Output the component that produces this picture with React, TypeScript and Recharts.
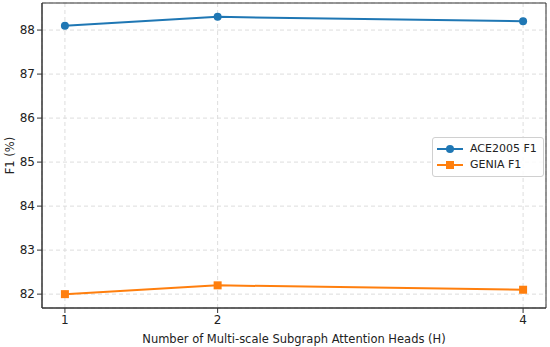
import { LineChart, Line, XAxis, YAxis, CartesianGrid, ReferenceArea } from "recharts";

const heads = [1, 2, 4];
const ace2005F1 = [88.1, 88.3, 88.2];
const geniaF1 = [82.0, 82.2, 82.1];
const yTicks = [82, 83, 84, 85, 86, 87, 88];

const data = heads.map((h, i) => ({ h, ace: ace2005F1[i], genia: geniaF1[i] }));

const BLUE = "#1f77b4";
const ORANGE = "#ff7f0e";
const FONT = "DejaVu Sans, sans-serif";

const SquareDot = (props: any) => {
  const { cx, cy } = props;
  if (cx == null || cy == null) return null;
  return <rect x={cx - 4} y={cy - 4} width={8} height={8} fill={ORANGE} />;
};

const LegendBox = () => (
  <div
    style={{
      position: "absolute",
      left: 432,
      top: 137,
      border: "1px solid #d0d0d0",
      borderRadius: 3,
      background: "rgba(255,255,255,0.85)",
      padding: "3px 6px 3px 4px",
      fontFamily: FONT,
      fontSize: 11,
      color: "#222",
      lineHeight: "16px",
    }}
  >
    {[
      { name: "ACE2005 F1", color: BLUE, square: false },
      { name: "GENIA F1", color: ORANGE, square: true },
    ].map((it) => (
      <div key={it.name} style={{ display: "flex", alignItems: "center" }}>
        <svg width={26} height={12} style={{ marginRight: 7 }}>
          <line x1={0} y1={6} x2={26} y2={6} stroke={it.color} strokeWidth={2} />
          {it.square ? (
            <rect x={9} y={2} width={8} height={8} fill={it.color} />
          ) : (
            <circle cx={13} cy={6} r={4} fill={it.color} />
          )}
        </svg>
        <span>{it.name}</span>
      </div>
    ))}
  </div>
);

export default function App() {
  return (
    <div style={{ position: "absolute", left: 0, top: 0, width: 550, height: 347, background: "#fff" }}>
      <LineChart width={550} height={347} data={data} margin={{ top: 3, right: 4, left: 0, bottom: 0 }}>
        <CartesianGrid stroke="#dddddd" strokeDasharray="4 3" vertical horizontal />
        <XAxis
          dataKey="h"
          type="number"
          domain={[0.85, 4.15]}
          ticks={heads}
          height={39}
          stroke="#333"
          tickSize={5}
          tick={{ fill: "#222", fontSize: 12, fontFamily: FONT }}
          label={{
            value: "Number of Multi-scale Subgraph Attention Heads (H)",
            position: "insideBottom",
            offset: 4,
            style: { fill: "#222", fontSize: 11.5, fontFamily: FONT },
          }}
        />
        <YAxis
          type="number"
          domain={[81.685, 88.615]}
          ticks={yTicks}
          width={42}
          stroke="#333"
          tickSize={5}
          tick={{ fill: "#222", fontSize: 12, fontFamily: FONT }}
          label={{
            content: (p: any) => {
              const vb = p.viewBox || {};
              const y = (vb.y ?? 3) + (vb.height ?? 305) / 2;
              return (
                <text
                  x={10}
                  y={y}
                  transform={`rotate(-90 10 ${y})`}
                  textAnchor="middle"
                  dominantBaseline="central"
                  style={{ fill: "#222", fontSize: 11.5, fontFamily: FONT }}
                >
                  F1 (%)
                </text>
              );
            },
          }}
        />
        <ReferenceArea x1={0.85} x2={4.15} y1={81.685} y2={88.615} fill="none" stroke="#333" strokeWidth={1} ifOverflow="visible" />
        <Line
          type="linear"
          dataKey="ace"
          name="ACE2005 F1"
          stroke={BLUE}
          strokeWidth={2}
          dot={{ r: 4, fill: BLUE, stroke: BLUE, strokeWidth: 0 }}
          isAnimationActive={false}
        />
        <Line
          type="linear"
          dataKey="genia"
          name="GENIA F1"
          stroke={ORANGE}
          strokeWidth={2}
          dot={<SquareDot />}
          isAnimationActive={false}
        />
      </LineChart>
      <LegendBox />
    </div>
  );
}
